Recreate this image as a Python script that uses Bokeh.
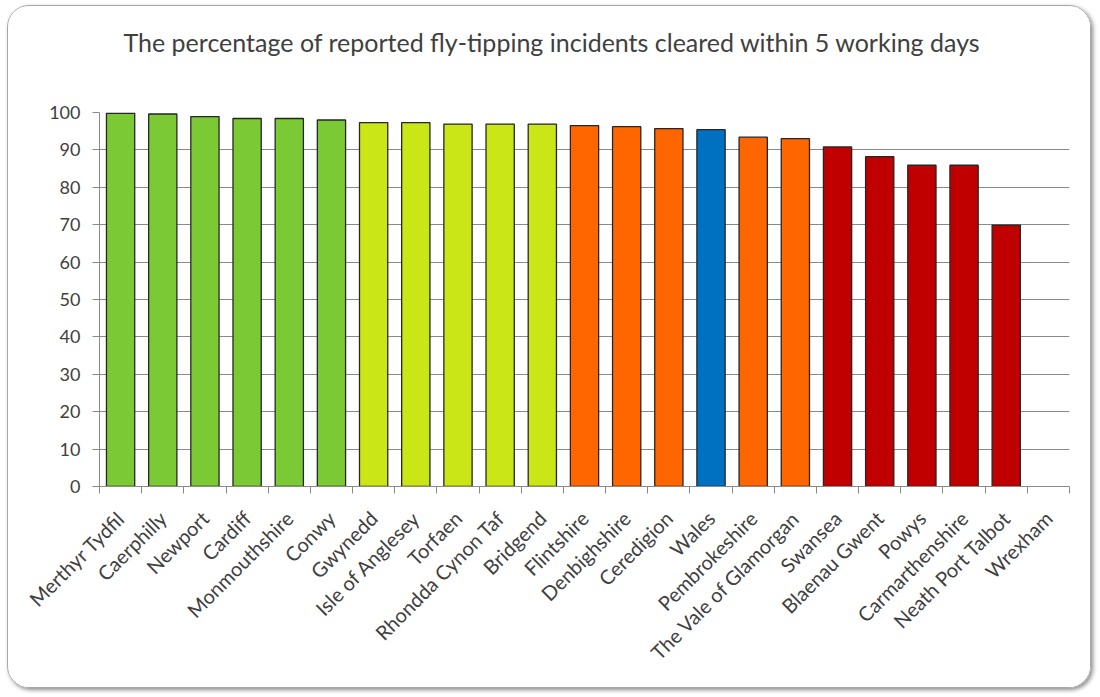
import math
import numpy as np
from bokeh.plotting import figure
from bokeh.models import (ColumnDataSource, Range1d, LinearAxis, FixedTicker,
                          CustomJSTickFormatter)
from bokeh.embed import file_html
from bokeh.resources import INLINE

# ---- data -------------------------------------------------------------
areas = ["Merthyr Tydfil", "Caerphilly", "Newport", "Cardiff", "Monmouthshire",
         "Conwy", "Gwynedd", "Isle of Anglesey", "Torfaen", "Rhondda Cynon Taf",
         "Bridgend", "Flintshire", "Denbighshire", "Ceredigion", "Wales",
         "Pembrokeshire", "The Vale of Glamorgan", "Swansea", "Blaenau Gwent",
         "Powys", "Carmarthenshire", "Neath Port Talbot", "Wrexham"]
pct = [99.8, 99.6, 98.9, 98.4, 98.4, 98.0, 97.3, 97.3, 96.9, 96.9,
       96.9, 96.5, 96.2, 95.7, 95.4, 93.4, 93.0, 90.8, 88.2,
       85.9, 85.9, 69.9, None]
bands = ["top", "top", "top", "top", "top", "top",
         "upper", "upper", "upper", "upper", "upper",
         "middle", "middle", "middle", "wales", "middle", "middle",
         "lower", "lower", "lower", "lower", "lower", "lower"]
y_ticks = [0, 10, 20, 30, 40, 50, 60, 70, 80, 90, 100]
title_text = "The percentage of reported fly-tipping incidents cleared within 5 working days"

band_colors = {"top": "#7AC935", "upper": "#CBE617", "middle": "#FF6600",
               "wales": "#0070C0", "lower": "#C00000"}

n = len(areas)
slot = list(range(n))  # category index on the x scale
src = ColumnDataSource(dict(
    slot=slot,
    area=areas,
    pct=[np.nan if v is None else v for v in pct],
    color=[band_colors[b] for b in bands],
))

FONT = "Lato"
TXT = "#404040"
GRID = "#8a8a8a"

p = figure(x_range=Range1d(-0.5, n - 0.5), y_range=Range1d(0, 100),
           width=1084, height=683, output_backend="svg", toolbar_location=None,
           x_axis_location=None, y_axis_location="left",
           min_border_left=91, min_border_right=23,
           min_border_top=106, min_border_bottom=203,
           background_fill_color="white", border_fill_color="white",
           outline_line_color=None)

p.styles = {"border": "1px solid #a8a8a8", "border-radius": "22px",
            "box-shadow": "2px 2px 4px rgba(0,0,0,0.45)", "overflow": "hidden",
            "margin-left": "7px", "margin-top": "5px"}

# title (an empty second line lifts the first line higher above the frame)
p.title.text = title_text + "\n"
p.title.align = "left"
p.title.vertical_align = "top"
p.title.offset = 24
p.title.text_font = FONT
p.title.text_font_size = "25px"
p.title.text_font_style = "normal"
p.title.text_line_height = 1.2
p.title.text_color = TXT
p.title.standoff = 36

# bars
p.vbar(x="slot", top="pct", bottom=0, width=0.67, source=src,
       fill_color="color", line_color="#262626", line_width=1.3)

# y axis
p.yaxis.ticker = FixedTicker(ticks=y_ticks)
p.yaxis.axis_line_color = GRID
p.yaxis.major_tick_line_color = GRID
p.yaxis.major_tick_out = 7
p.yaxis.major_tick_in = 0
p.yaxis.minor_tick_line_color = None
p.yaxis.major_label_standoff = 12
p.yaxis.major_label_text_font = FONT
p.yaxis.major_label_text_font_size = "18px"
p.yaxis.major_label_text_color = TXT

p.ygrid.grid_line_color = GRID
p.ygrid.ticker = FixedTicker(ticks=y_ticks)
p.xgrid.visible = False

# x axis: boundary ticks, then labels at category centres
boundaries = [i - 0.5 for i in range(n + 1)]
tick_axis = LinearAxis(ticker=FixedTicker(ticks=boundaries),
                       formatter=CustomJSTickFormatter(code="return ''"),
                       major_tick_out=7, major_tick_in=0,
                       minor_tick_line_color=None,
                       major_label_text_font_size="1px", major_label_standoff=0,
                       axis_line_color=GRID, major_tick_line_color=GRID)
p.add_layout(tick_axis, "below")

label_axis = LinearAxis(ticker=FixedTicker(ticks=slot),
                        major_label_overrides={i: name for i, name in zip(slot, areas)},
                        axis_line_color=None, major_tick_line_color=None,
                        minor_tick_line_color=None,
                        major_tick_out=0, major_tick_in=0,
                        major_label_orientation=math.pi / 4,
                        major_label_standoff=21,
                        major_label_text_font=FONT,
                        major_label_text_font_size="20px",
                        major_label_text_color=TXT)
p.add_layout(label_axis, "below")

open("out.html", "w").write(file_html(p, INLINE))
